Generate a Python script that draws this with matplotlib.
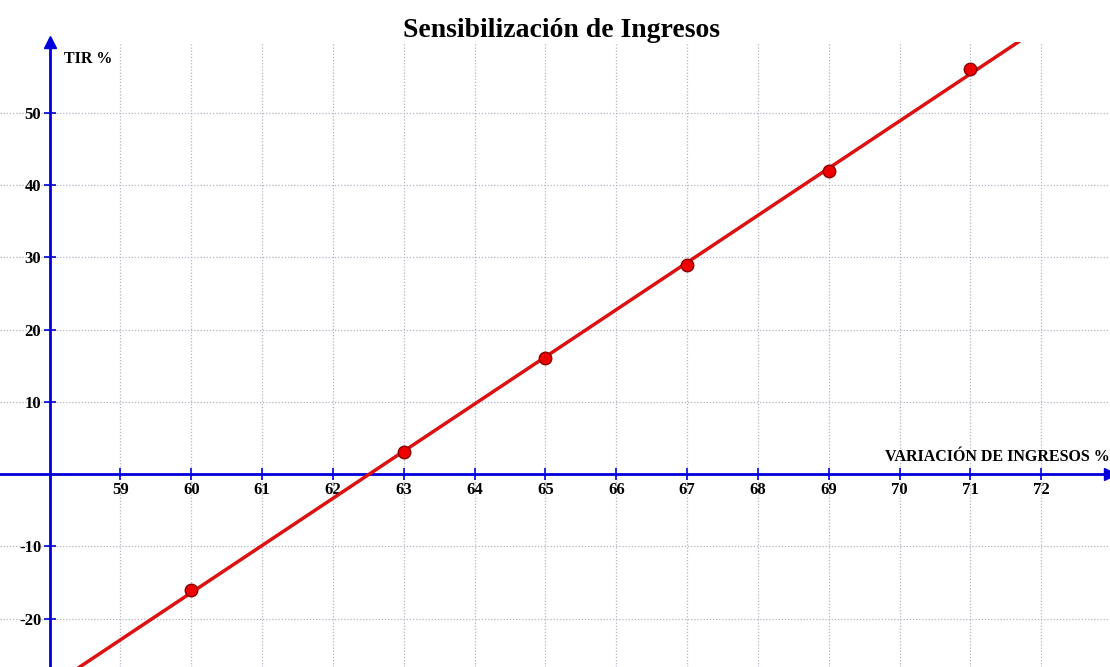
import numpy as np
import matplotlib
matplotlib.use("Agg")
import matplotlib.pyplot as plt

# data
ingresos = [60, 63, 65, 67, 69, 71]
tir = [-16, 3, 16, 29, 42, 56]
xticks = list(range(59, 73))
yticks = [-20, -10, 10, 20, 30, 40, 50]

plt.rcParams['font.family'] = ['Liberation Serif', 'DejaVu Serif']
plt.rcParams['font.weight'] = 'bold'
plt.rcParams['axes.unicode_minus'] = False

fig = plt.figure(figsize=(11.1, 6.67), dpi=100)
ax = fig.add_axes([0, 0, 1, 0.937])
ax.set_xlim(57.3, 72.97)
ax.set_ylim(-26.7, 59.8)

# grid
for xv in xticks:
    ax.axvline(xv, color='#b4b4c4', lw=0.9, ls=(0, (1, 1.5)), zorder=0)
for yv in yticks:
    ax.axhline(yv, color='#b4b4c4', lw=0.9, ls=(0, (1, 1.5)), zorder=0)

# axes through the origin
for s in ['top', 'right']:
    ax.spines[s].set_visible(False)
ax.spines['left'].set_position(('data', 58))
ax.spines['bottom'].set_position(('data', 0))
ax.spines['left'].set_color('#0000dd')
ax.spines['bottom'].set_color('#0000dd')
ax.spines['left'].set_linewidth(2)
ax.spines['bottom'].set_linewidth(2)
ax.spines['left'].set_bounds(-26.7, 59.3)
ax.plot(58, 59.8, marker='^', color='#0000dd', ms=8, clip_on=False, zorder=5)
ax.plot(72.97, 0, marker='>', color='#0000dd', ms=8, clip_on=False, zorder=5)

ax.set_xticks(xticks)
ax.set_yticks(yticks)
ax.tick_params(axis='both', direction='inout', length=8, width=1.2, color='#0000dd',
               labelsize=12, pad=2)
for lab in ax.get_xticklabels() + ax.get_yticklabels():
    lab.set_fontweight('bold')

# fitted line and points
coef = np.polyfit(ingresos, tir, 1)
xs = np.array([57.3, 72.97])
ax.plot(xs, np.polyval(coef, xs), color='#dd1111', lw=2.5, zorder=3)
ax.plot(ingresos, tir, 'o', color='#ee0000', mec='#880000', ms=9, zorder=4)

ax.text(58.2, 58.5, 'TIR %', fontsize=11.5, fontweight='bold', va='top', ha='left')
ax.text(72.97, 1.2, 'VARIACIÓN DE INGRESOS %', fontsize=11.5, fontweight='bold',
        va='bottom', ha='right')

fig.text(0.506, 0.955, 'Sensibilización de Ingresos', fontsize=20, fontweight='bold',
         ha='center', va='center')

fig.savefig('out.png', dpi=100)
